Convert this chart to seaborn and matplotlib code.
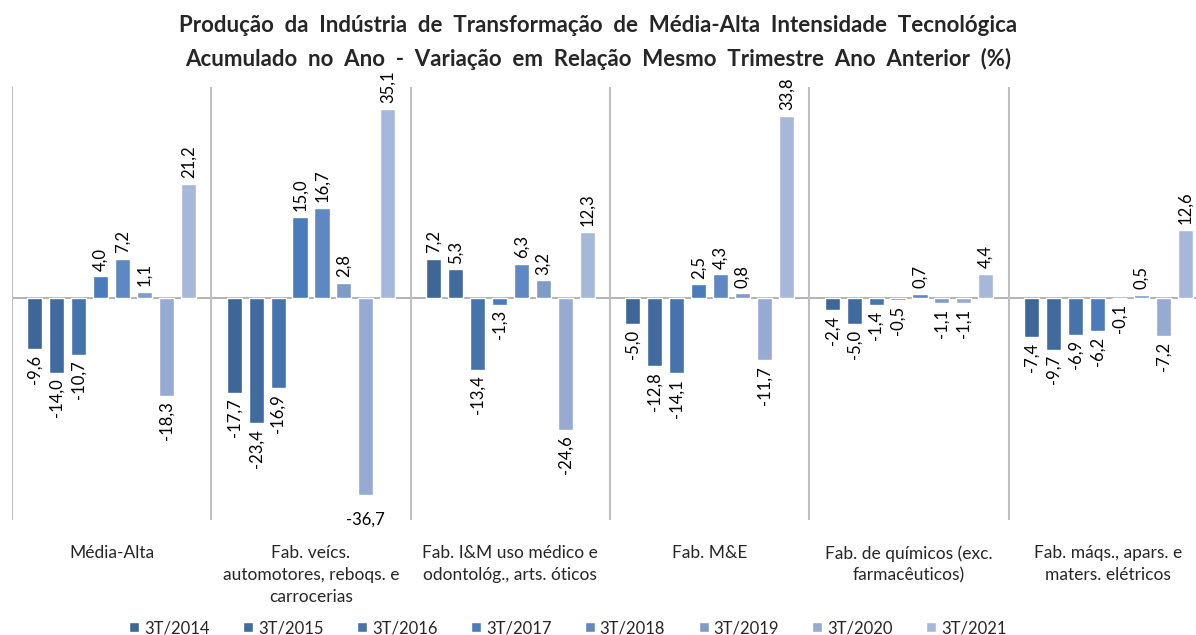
import pandas as pd
import numpy as np
import seaborn as sns
import matplotlib.pyplot as plt

# Dados
categorias = [
    "Média-Alta",
    "Fab. veícs.\nautomotores, reboqs. e\ncarrocerias",
    "Fab. I&M uso médico e\nodontológ., arts. óticos",
    "Fab. M&E",
    "Fab. de químicos (exc.\nfarmacêuticos)",
    "Fab. máqs., apars. e\nmaters. elétricos",
]
periodos = ["3T/2014", "3T/2015", "3T/2016", "3T/2017",
            "3T/2018", "3T/2019", "3T/2020", "3T/2021"]

media_alta = [-9.6, -14.0, -10.7, 4.0, 7.2, 1.1, -18.3, 21.2]
veiculos = [-17.7, -23.4, -16.9, 15.0, 16.7, 2.8, -36.7, 35.1]
medico = [7.2, 5.3, -13.4, -1.3, 6.3, 3.2, -24.6, 12.3]
maq_equip = [-5.0, -12.8, -14.1, 2.5, 4.3, 0.8, -11.7, 33.8]
quimicos = [-2.4, -5.0, -1.4, -0.5, 0.7, -1.1, -1.1, 4.4]
eletricos = [-7.4, -9.7, -6.9, -6.2, -0.1, 0.5, -7.2, 12.6]

cores = ["#3E6696", "#416A9F", "#4673AA", "#4A7BBA",
         "#5F88C2", "#7F9BC8", "#97AAD2", "#A5B8DA"]

series = [media_alta, veiculos, medico, maq_equip, quimicos, eletricos]

# Monta DataFrame no formato longo
df = pd.DataFrame({
    "Categoria": np.repeat(categorias, len(periodos)),
    "Período": np.tile(periodos, len(categorias)),
    "Valor": np.concatenate(series),
})

sns.set_theme(style="white")
plt.rcParams["font.family"] = ["Lato", "DejaVu Sans"]

fig = plt.figure(figsize=(11.96, 6.35), dpi=100)
ax = fig.add_axes([12 / 1196, 1 - 520 / 635, 1196 / 1196, (520 - 87) / 635])

sns.barplot(
    data=df, x="Categoria", y="Valor", hue="Período",
    order=categorias, hue_order=periodos, palette=cores,
    saturation=1, errorbar=None, width=0.88, gap=0.31, ax=ax
)

ymin, ymax = -41.4, 39.2

# Rótulos de dados verticais (horizontal quando não cabe)
for cont in ax.containers:
    rotulos = []
    for v, barra in zip(cont.datavalues, cont.patches):
        txt = f"{v:.1f}".replace(".", ",")
        if v < -33:
            ax.annotate(txt, (barra.get_x() + barra.get_width() / 2, v),
                        xytext=(0, -12), textcoords="offset points",
                        ha="center", va="top", fontsize=12, color="#000000")
            txt = ""
        rotulos.append(txt)
    ax.bar_label(cont, labels=rotulos, rotation=90, padding=4,
                 fontsize=12, color="#000000")

ax.set_xlim(-0.5, len(categorias) - 0.5)
ax.set_ylim(ymin, ymax)
ax.axhline(0, color="#A6A6A6", lw=1.2, zorder=0)
for x in np.arange(-0.5, len(categorias), 1.0):
    ax.axvline(x, color="#BFBFBF", lw=1.5, zorder=0)

for s in ax.spines.values():
    s.set_visible(False)
ax.set_yticks([])
ax.set_xlabel("")
ax.set_ylabel("")
ax.tick_params(axis="x", length=0, pad=18, labelsize=12.5)
for t in ax.get_xticklabels():
    t.set_linespacing(1.45)
    t.set_verticalalignment("top")

handles, labels = ax.get_legend_handles_labels()
ax.get_legend().remove()
fig.legend(handles, labels, loc="center", bbox_to_anchor=(0.475, 1 - 628 / 635),
           ncol=8, frameon=False, fontsize=12, handlelength=0.6,
           handleheight=0.6, handletextpad=0.3, columnspacing=2.0)

fig.text(0.5, 1 - 25 / 635,
         "Produção  da  Indústria  de  Transformação  de  Média-Alta  Intensidade  Tecnológica",
         ha="center", va="center", fontsize=16, fontweight="bold")
fig.text(0.5, 1 - 59 / 635,
         "Acumulado  no  Ano  -  Variação  em  Relação  Mesmo  Trimestre  Ano  Anterior  (%)",
         ha="center", va="center", fontsize=16, fontweight="bold")

fig.savefig("out.png", dpi=100)
